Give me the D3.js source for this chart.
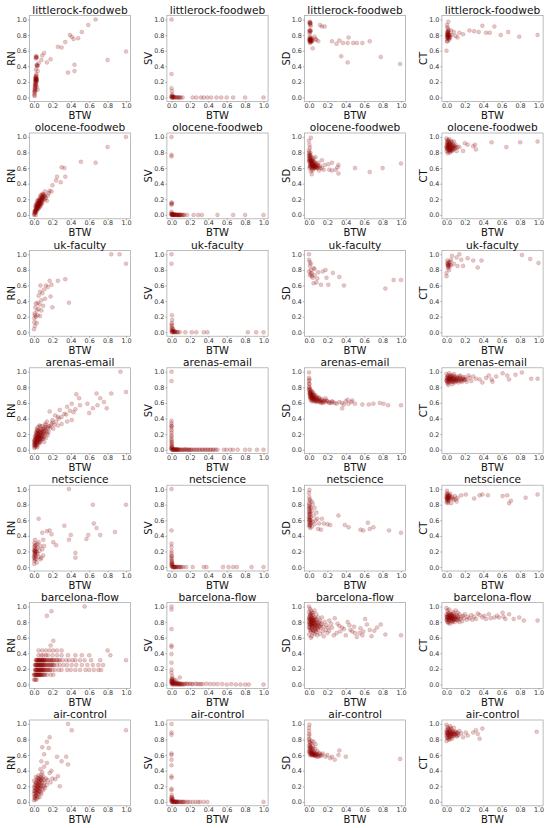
<!DOCTYPE html>
<html>
<head>
<meta charset="utf-8">
<script src="https://cdn.jsdelivr.net/npm/d3@7"></script>
<style>
  body { margin: 0; background: #fff; }
  text { font-family: "DejaVu Sans", sans-serif; }
</style>
</head>
<body>
<div id="chart"></div>
<script>
const datasets = ["littlerock-foodweb", "olocene-foodweb", "uk-faculty", "arenas-email", "netscience", "barcelona-flow", "air-control"];
const metrics = ["RN", "SV", "SD", "CT"];
const tickValues = [0, 0.2, 0.4, 0.6, 0.8, 1.0];

// littlerock-foodweb
const lrRN = [[0.67,1.0],[0.59,0.93],[0.52,0.84],[0.39,0.8],[0.41,0.78],[0.43,0.75],[0.48,0.76],[0.34,0.71],[0.26,0.65],[0.3,0.64],[1.0,0.59],[0.8,0.48],[0.44,0.42],[0.44,0.34],[0.37,0.32],[0.18,0.49],[0.14,0.45],[0.11,0.57],[0.09,0.54],[0.08,0.48],[0.05,0.44],[0.04,0.41],[0.04,0.34],[0.03,0.52],[0.02,0.53],[0.025,0.51],[0.03,0.42],[0.035,0.4],[0.02,0.36],[0.025,0.3],[0.02,0.27],[0.03,0.25],[0.02,0.24],[0.015,0.23],[0.025,0.22],[0.02,0.21],[0.01,0.2],[0.03,0.2],[0.015,0.18],[0.01,0.16],[0.02,0.15],[0.01,0.13],[0.007,0.11],[0.015,0.1],[0.005,0.08],[0.01,0.07],[0.005,0.05],[0.003,0.03],[0.008,0.02],[0.04,0.1],[0.03,0.14],[0.02,0.25],[0.025,0.23]];
const lrRNCore = [[0.02,0.22],[0.02,0.23],[0.025,0.24],[0.015,0.26],[0.02,0.19],[0.025,0.52],[0.02,0.5],[0.03,0.41],[0.01,0.15],[0.015,0.12],[0.01,0.09],[0.02,0.17],[0.025,0.28],[0.03,0.22]];
const lrSV = [[0,1.0],[0,0.3],[0,0.12],[0.005,0.08],[0.008,0.04],[0,0.02],[0.005,0.01],[0.01,0],[0.015,0.005],[0.02,0],[0.025,0.01],[0.03,0],[0.04,0],[0.05,0.005],[0.06,0],[0.07,0],[0.08,0],[0.09,0],[0.1,0],[0.12,0],[0.23,0],[0.27,0],[0.32,0],[0.35,0],[0.39,0],[0.43,0],[0.49,0],[0.54,0],[0.6,0],[0.67,0],[0.8,0],[1.0,0],[0,0],[0.003,0.005],[0.01,0.02]];
const lrSD = [[0.01,0.97],[0.015,0.95],[0.01,0.93],[0.02,0.92],[0.005,0.96],[0.01,0.85],[0.015,0.84],[0.005,0.82],[0.02,0.86],[0.01,0.78],[0.005,0.76],[0.015,0.75],[0.01,0.74],[0.02,0.73],[0.005,0.72],[0.015,0.71],[0.025,0.74],[0.02,0.76],[0.03,0.72],[0.01,0.7],[0.03,0.76],[0.04,0.73],[0.04,0.63],[0.07,0.75],[0.1,0.72],[0.12,0.93],[0.14,0.91],[0.17,0.91],[0.25,0.72],[0.3,0.69],[0.33,0.73],[0.37,0.7],[0.43,0.77],[0.42,0.7],[0.48,0.7],[0.52,0.7],[0.58,0.7],[0.66,0.72],[0.35,0.53],[0.42,0.45],[0.78,0.52],[0.99,0.43],[0.06,0.78],[0.08,0.74]];
const lrSDCore = [[0.005,0.74],[0.01,0.73],[0.015,0.73],[0.02,0.74],[0.01,0.75],[0.005,0.86],[0.01,0.86],[0.015,0.96],[0.01,0.95],[0.02,0.71],[0.025,0.72]];
const lrCT = [[0.02,0.97],[0.01,0.9],[0.01,0.83],[0.02,0.77],[0.03,0.74],[0.04,0.8],[0.0,0.6],[0.005,0.72],[0.01,0.75],[0.015,0.78],[0.005,0.8],[0.02,0.82],[0.01,0.85],[0.025,0.86],[0.015,0.88],[0.02,0.84],[0.03,0.79],[0.01,0.81],[0.02,0.79],[0.03,0.76],[0.005,0.93],[0.04,0.77],[0.1,0.79],[0.12,0.77],[0.18,0.81],[0.25,0.86],[0.3,0.85],[0.35,0.84],[0.39,0.92],[0.43,0.83],[0.47,0.83],[0.52,0.91],[0.59,0.8],[0.67,0.84],[0.79,0.78],[0.99,0.8],[0.08,0.84],[0.14,0.83],[0.06,0.8],[0.05,0.86]];
const lrCTCore = [[0.01,0.8],[0.015,0.82],[0.02,0.8],[0.01,0.78],[0.02,0.76],[0.015,0.84],[0.005,0.77],[0.025,0.8],[0.01,0.72]];

// olocene-foodweb
const olRN = [[1.0,1.0],[0.8,0.87],[0.67,0.67],[0.51,0.68],[0.34,0.49],[0.33,0.6],[0.3,0.61],[0.25,0.49],[0.29,0.42],[0.24,0.44],[0.2,0.38],[0.17,0.31],[0.16,0.28],[0.12,0.3],[0.09,0.27],[0.08,0.25],[0.19,0.3],[0.1,0.21],[0.14,0.18],[0.065,0.22],[0.05,0.17],[0.035,0.13],[0.02,0.09],[0.01,0.04],[0.005,0.01],[0.07,0.25],[0.09,0.22],[0.1,0.26],[0.085,0.19],[0.06,0.2],[0.075,0.16],[0.055,0.14],[0.045,0.19],[0.04,0.11],[0.06,0.12],[0.03,0.15],[0.03,0.1],[0.025,0.07],[0.04,0.08],[0.015,0.06],[0.02,0.03],[0.01,0.02],[0.005,0.05],[0.05,0.1],[0.07,0.13],[0.08,0.17],[0.11,0.24],[0.13,0.22],[0.15,0.25],[0.03,0.05],[0.015,0.11],[0.02,0.13],[0.045,0.15],[0.06,0.17],[0.035,0.18],[0.09,0.15],[0.12,0.2],[0.0,0.0],[0.02,0.0]];
const olRNCore = [[0.02,0.05],[0.03,0.07],[0.03,0.09],[0.04,0.1],[0.04,0.13],[0.05,0.12],[0.05,0.15],[0.06,0.14],[0.06,0.16],[0.07,0.15],[0.07,0.18],[0.08,0.2],[0.08,0.14],[0.09,0.18],[0.09,0.21],[0.1,0.23],[0.02,0.07],[0.03,0.12],[0.04,0.15],[0.05,0.08],[0.06,0.1],[0.07,0.11],[0.01,0.03],[0.015,0.04],[0.025,0.1],[0.035,0.08],[0.045,0.12],[0.055,0.18],[0.065,0.19],[0.075,0.21],[0.085,0.23],[0.095,0.25],[0.11,0.26],[0.12,0.24],[0.1,0.19]];
const olSV = [[0,1.0],[0,0.77],[0,0.75],[0,0.16],[0,0.13],[0,0.04],[0,0.01],[0.005,0],[0.01,0.005],[0.015,0],[0.02,0],[0.03,0.005],[0.04,0],[0.05,0],[0.06,0],[0.07,0],[0.08,0],[0.09,0],[0.1,0],[0.12,0],[0.14,0],[0.17,0],[0.24,0],[0.29,0],[0.33,0],[0.5,0],[0.67,0],[0.8,0],[1.0,0],[0,0],[0.005,0.01],[0.025,0.01],[0.035,0]];
const olSVCore = [[0.005,0.005],[0.015,0.005],[0.025,0],[0.045,0.005],[0.055,0],[0.065,0],[0.075,0],[0.085,0],[0.095,0],[0.11,0],[0.13,0],[0,0.02],[0,0.14],[0.005,0.15]];
const olSD = [[0.02,0.99],[0.0,0.95],[0.005,0.9],[0.01,0.86],[0.0,0.83],[0.015,0.8],[0.005,0.78],[0.02,0.76],[0.01,0.74],[0.03,0.73],[0.0,0.72],[0.02,0.7],[0.04,0.7],[0.01,0.68],[0.03,0.67],[0.05,0.66],[0.015,0.65],[0.04,0.64],[0.06,0.63],[0.025,0.62],[0.07,0.62],[0.05,0.6],[0.08,0.6],[0.03,0.59],[0.1,0.61],[0.09,0.64],[0.06,0.68],[0.08,0.66],[0.12,0.63],[0.005,0.6],[0.02,0.56],[0.04,0.57],[0.07,0.74],[0.14,0.7],[0.17,0.64],[0.21,0.65],[0.25,0.67],[0.29,0.58],[0.31,0.61],[0.32,0.64],[0.32,0.53],[0.5,0.6],[0.66,0.55],[0.8,0.6],[1.0,0.66],[0.11,0.57],[0.16,0.58],[0.22,0.58],[0.25,0.57],[0.03,0.52],[0.01,0.77],[0.0,0.69],[0.015,0.62],[0.05,0.73],[0.1,0.67]];
const olSDCore = [[0.0,0.8],[0.005,0.75],[0.01,0.72],[0.015,0.7],[0.02,0.68],[0.025,0.66],[0.03,0.65],[0.035,0.64],[0.04,0.62],[0.045,0.63],[0.05,0.64],[0.055,0.62],[0.06,0.61],[0.065,0.6],[0.07,0.64],[0.075,0.61],[0.08,0.62],[0.005,0.7],[0.01,0.66],[0.015,0.74],[0.02,0.64],[0.025,0.7],[0.03,0.61],[0.035,0.68],[0.04,0.66],[0.045,0.6],[0.05,0.68],[0.06,0.66],[0.0,0.76],[0.01,0.62],[0.09,0.6],[0.1,0.63],[0.12,0.6],[0.14,0.6],[0.03,0.7]];
const olCT = [[0.0,0.98],[0.01,0.96],[0.02,0.95],[0.005,0.93],[0.03,0.92],[0.015,0.9],[0.04,0.91],[0.0,0.88],[0.02,0.87],[0.05,0.89],[0.01,0.85],[0.03,0.84],[0.06,0.86],[0.0,0.82],[0.02,0.81],[0.04,0.8],[0.07,0.83],[0.08,0.88],[0.09,0.85],[0.1,0.9],[0.11,0.82],[0.12,0.87],[0.06,0.93],[0.015,0.79],[0.035,0.86],[0.05,0.83],[0.14,0.87],[0.18,0.82],[0.23,0.9],[0.29,0.88],[0.31,0.9],[0.32,0.84],[0.49,0.93],[0.65,0.87],[0.8,0.93],[0.99,0.94],[0.2,0.92],[0.08,0.94],[0.03,0.97]];
const olCTCore = [[0.005,0.9],[0.01,0.88],[0.015,0.86],[0.02,0.9],[0.025,0.85],[0.03,0.88],[0.035,0.9],[0.04,0.86],[0.045,0.84],[0.05,0.87],[0.055,0.9],[0.06,0.84],[0.065,0.88],[0.07,0.86],[0.075,0.9],[0.08,0.85],[0.09,0.88],[0.1,0.86],[0.005,0.85],[0.01,0.92],[0.02,0.83],[0.03,0.93],[0.04,0.82],[0.05,0.95],[0.06,0.82],[0.0,0.86],[0.015,0.94],[0.025,0.89],[0.035,0.83],[0.045,0.92]];

// uk-faculty
const ukRN = [[0.84,1.0],[0.93,1.0],[1.0,0.88],[0.34,0.68],[0.26,0.66],[0.17,0.66],[0.19,0.61],[0.15,0.58],[0.18,0.46],[0.38,0.38],[0.2,0.32],[0.07,0.6],[0.065,0.52],[0.05,0.47],[0.08,0.41],[0.06,0.36],[0.02,0.37],[0.015,0.32],[0.007,0.24],[0.04,0.22],[0.065,0.21],[0.004,0.18],[0.004,0.13],[0.01,0.08],[0.03,0.12],[0.0,0.04],[0.08,0.28],[0.1,0.34],[0.12,0.43],[0.09,0.5],[0.02,0.2],[0.03,0.28],[0.01,0.22],[0.05,0.3],[0.04,0.38],[0.11,0.55],[0.13,0.6]];
const ukSV = [[0,1.0],[0,0.88],[0.005,0.22],[0.008,0.16],[0.005,0.12],[0.005,0.08],[0.01,0.05],[0.0,0.03],[0.01,0.02],[0.02,0.01],[0.03,0.0],[0.04,0.01],[0.05,0.0],[0.06,0.0],[0.07,0.005],[0.09,0.0],[0.015,0.0],[0.005,0.0],[0.15,0.0],[0.22,0.0],[0.27,0.0],[0.35,0.0],[0.39,0.0],[0.83,0.0],[0.92,0.0],[1.0,0.0],[0.02,0.04],[0.0,0.06],[0.005,0.01],[0.015,0.02],[0.025,0.01],[0.035,0.005],[0,0.1]];
const ukSD = [[0.0,1.0],[0.0,0.93],[0.01,0.9],[0.01,0.85],[0.02,0.8],[0.03,0.76],[0.01,0.73],[0.04,0.7],[0.05,0.82],[0.06,0.73],[0.06,0.81],[0.09,0.69],[0.05,0.63],[0.08,0.64],[0.13,0.61],[0.1,0.77],[0.15,0.78],[0.18,0.8],[0.19,0.7],[0.21,0.61],[0.26,0.76],[0.33,0.71],[0.38,0.6],[0.83,0.56],[0.92,0.67],[1.0,0.67],[0.02,0.88],[0.0,0.78],[0.03,0.72],[0.02,0.75]];
const ukCT = [[0.01,0.92],[0.02,0.89],[0.03,0.87],[0.035,0.85],[0.015,0.82],[0.0,0.76],[0.0,0.72],[0.05,0.93],[0.08,0.88],[0.11,0.96],[0.14,1.0],[0.12,0.85],[0.18,0.85],[0.23,0.95],[0.29,0.92],[0.34,0.83],[0.38,0.92],[0.82,0.99],[0.91,0.94],[1.0,0.89],[0.16,0.93],[0.06,0.98],[0.02,0.84],[0.04,0.9],[0.01,0.87],[0.03,0.8],[0.05,0.86],[0.01,0.89],[0.02,0.86],[0.03,0.9],[0.015,0.85]];

// arenas-email
const aeRN = [[0.94,1.0],[1.0,0.74],[0.84,0.72],[0.76,0.61],[0.68,0.72],[0.72,0.66],[0.79,0.53],[0.69,0.57],[0.64,0.53],[0.6,0.47],[0.58,0.59],[0.49,0.66],[0.46,0.71],[0.5,0.57],[0.41,0.59],[0.43,0.48],[0.36,0.55],[0.33,0.46],[0.28,0.51],[0.26,0.42],[0.23,0.44],[0.2,0.38],[0.17,0.49],[0.14,0.36],[0.12,0.29],[0.08,0.25],[0.1,0.23],[0.065,0.18],[0.05,0.14],[0.03,0.1],[0.01,0.06],[0.005,0.02],[0.16,0.23],[0.21,0.27],[0.26,0.31],[0.3,0.33],[0.36,0.36],[0.41,0.38],[0.03,0.2],[0.04,0.25],[0.06,0.31],[0.02,0.15],[0.015,0.1],[0.04,0.12],[0.06,0.1],[0.08,0.15],[0.1,0.18],[0.12,0.2],[0.02,0.04],[0.04,0.06],[0.06,0.08],[0.08,0.12],[0.1,0.14],[0.14,0.24],[0.18,0.28],[0.22,0.32],[0.11,0.27],[0.09,0.3],[0.07,0.22],[0.05,0.18],[0.03,0.15],[0.015,0.12],[0.01,0.17],[0.02,0.22],[0.03,0.27],[0.05,0.22],[0.07,0.17],[0.09,0.2],[0.13,0.32],[0.16,0.3],[0.19,0.33],[0.24,0.36],[0.27,0.4],[0.3,0.42],[0.35,0.45],[0.39,0.5],[0.45,0.52],[0.005,0.08],[0.0,0.12],[0.025,0.08],[0.045,0.16],[0.065,0.13],[0.035,0.03],[0.11,0.1],[0.15,0.19],[0.13,0.15]];
const aeRNCore = [[0.005,0.04],[0.01,0.08],[0.01,0.12],[0.015,0.05],[0.02,0.09],[0.02,0.13],[0.02,0.18],[0.025,0.06],[0.03,0.11],[0.03,0.16],[0.03,0.22],[0.035,0.08],[0.04,0.13],[0.04,0.18],[0.04,0.21],[0.045,0.1],[0.05,0.16],[0.05,0.2],[0.05,0.24],[0.055,0.12],[0.06,0.15],[0.06,0.19],[0.06,0.24],[0.065,0.1],[0.07,0.14],[0.07,0.2],[0.075,0.26],[0.08,0.18],[0.08,0.22],[0.085,0.14],[0.09,0.24],[0.09,0.17],[0.1,0.21],[0.1,0.27],[0.11,0.22],[0.11,0.16],[0.12,0.25],[0.13,0.27],[0.14,0.21],[0.15,0.28],[0.0,0.06],[0.005,0.1],[0.015,0.15],[0.025,0.19],[0.035,0.25],[0.045,0.29],[0.07,0.3],[0.12,0.33],[0.17,0.3],[0.2,0.35]];
const aeSV = [[0,1.0],[0,0.88],[0,0.37],[0,0.34],[0,0.31],[0,0.28],[0,0.22],[0,0.17],[0,0.12],[0.005,0.09],[0.005,0.05],[0.01,0.03],[0,0.01],[0.01,0],[0.02,0.005],[0.03,0],[0.04,0],[0.05,0.005],[0.06,0],[0.08,0],[0.1,0],[0.12,0],[0.14,0],[0.16,0],[0.18,0],[0.2,0],[0.22,0],[0.25,0],[0.28,0],[0.31,0],[0.34,0],[0.37,0],[0.4,0],[0.43,0],[0.46,0],[0.5,0],[0.57,0],[0.6,0],[0.64,0],[0.67,0],[0.72,0],[0.8,0],[0.85,0],[0.93,0],[1.0,0],[0.07,0.005],[0.15,0.005],[0.002,0.02]];
const aeSVCore = [[0.005,0],[0.015,0],[0.025,0],[0.035,0.005],[0.045,0],[0.055,0],[0.065,0],[0.075,0],[0.09,0],[0.11,0],[0.13,0],[0.17,0],[0.19,0],[0.21,0],[0.24,0],[0.27,0],[0.3,0],[0.33,0],[0.36,0],[0.39,0],[0.42,0],[0.45,0],[0.48,0],[0,0.02],[0,0.04],[0,0.07],[0,0.1],[0,0.14],[0,0.19],[0,0.25],[0,0.3]];
const aeSD = [[0,0.99],[0,0.92],[0.005,0.84],[0.01,0.78],[0.015,0.74],[0.02,0.7],[0.03,0.66],[0.0,0.88],[0.005,0.8],[0.01,0.72],[0.02,0.76],[0.03,0.7],[0.04,0.68],[0.05,0.72],[0.06,0.65],[0.07,0.68],[0.08,0.63],[0.09,0.66],[0.1,0.64],[0.11,0.67],[0.12,0.62],[0.14,0.65],[0.15,0.61],[0.17,0.63],[0.2,0.62],[0.22,0.6],[0.25,0.62],[0.28,0.6],[0.3,0.59],[0.33,0.61],[0.36,0.6],[0.38,0.58],[0.4,0.62],[0.43,0.59],[0.46,0.61],[0.5,0.59],[0.58,0.58],[0.65,0.58],[0.7,0.59],[0.77,0.6],[0.81,0.59],[0.86,0.57],[1.0,0.57],[0.36,0.53],[0.47,0.63],[0.42,0.64],[0.04,0.74],[0.06,0.7],[0.08,0.69],[0.02,0.64],[0.05,0.62],[0.13,0.6],[0.18,0.66],[0.01,0.68],[0.03,0.62]];
const aeSDCore = [[0.0,0.8],[0.005,0.76],[0.005,0.72],[0.01,0.74],[0.01,0.69],[0.015,0.71],[0.02,0.72],[0.02,0.67],[0.025,0.69],[0.03,0.72],[0.03,0.64],[0.035,0.67],[0.04,0.7],[0.04,0.65],[0.045,0.66],[0.05,0.68],[0.05,0.64],[0.06,0.67],[0.06,0.63],[0.07,0.65],[0.07,0.62],[0.08,0.66],[0.08,0.61],[0.09,0.63],[0.1,0.62],[0.1,0.66],[0.11,0.61],[0.12,0.64],[0.13,0.62],[0.14,0.63],[0.15,0.6],[0.16,0.62],[0.18,0.61],[0.19,0.63],[0.22,0.61],[0.24,0.6],[0.26,0.61],[0.0,0.85],[0.005,0.9],[0.0,0.77],[0.015,0.66],[0.025,0.75],[0.05,0.7],[0.03,0.68]];
const aeCT = [[0.0,0.97],[0.02,0.95],[0.04,0.93],[0.06,0.91],[0.08,0.9],[0.1,0.92],[0.12,0.89],[0.14,0.91],[0.16,0.88],[0.18,0.93],[0.2,0.9],[0.22,0.87],[0.25,0.92],[0.0,0.88],[0.01,0.85],[0.03,0.9],[0.05,0.87],[0.07,0.95],[0.09,0.86],[0.11,0.94],[0.13,0.86],[0.15,0.95],[0.17,0.9],[0.01,0.92],[0.03,0.98],[0.05,0.93],[0.02,0.83],[0.06,0.84],[0.1,0.88],[0.27,0.88],[0.29,0.94],[0.36,0.9],[0.43,0.92],[0.49,0.9],[0.54,0.94],[0.61,0.98],[0.66,0.95],[0.68,0.9],[0.75,0.96],[0.82,0.99],[0.92,0.91],[0.99,0.91],[0.5,0.87],[0.39,0.86],[0.32,0.91],[0.46,0.95],[0.24,0.95],[0.08,0.97]];
const aeCTCore = [[0.0,0.92],[0.01,0.9],[0.01,0.94],[0.02,0.89],[0.02,0.92],[0.03,0.87],[0.03,0.93],[0.04,0.9],[0.04,0.88],[0.05,0.91],[0.05,0.95],[0.06,0.88],[0.06,0.93],[0.07,0.9],[0.07,0.87],[0.08,0.92],[0.09,0.89],[0.09,0.94],[0.1,0.9],[0.11,0.88],[0.12,0.92],[0.13,0.9],[0.14,0.88],[0.15,0.92],[0.16,0.9],[0.17,0.87],[0.18,0.91],[0.19,0.89],[0.2,0.93],[0.21,0.9],[0.0,0.89],[0.02,0.86],[0.04,0.95],[0.08,0.87],[0.11,0.91],[0.14,0.94],[0.01,0.87],[0.03,0.91],[0.05,0.89],[0.07,0.92]];

// netscience
const nsRN = [[0.38,1.0],[0.64,0.8],[1.0,0.8],[0.05,0.62],[0.65,0.56],[0.68,0.5],[0.33,0.53],[0.17,0.47],[0.14,0.46],[0.19,0.42],[0.09,0.44],[0.88,0.45],[0.72,0.41],[0.59,0.41],[0.4,0.41],[0.38,0.35],[0.57,0.36],[0.45,0.18],[0.45,0.12],[0.21,0.32],[0.24,0.28],[0.1,0.35],[0.11,0.27],[0.09,0.23],[0.08,0.12],[0.05,0.32],[0.005,0.31],[0.005,0.26],[0.01,0.21],[0.01,0.16],[0.005,0.12],[0.003,0.08],[0.003,0.04],[0.03,0.19],[0.04,0.25],[0.05,0.13],[0.06,0.21],[0.07,0.27],[0.02,0.14],[0.02,0.1],[0.03,0.06],[0.01,0.35],[0.02,0.28],[0.04,0.17],[0.015,0.2],[0.025,0.23],[0.035,0.3],[0.005,0.18],[0.0,0.22],[0.1,0.15],[0.07,0.1],[0.005,0.2],[0.01,0.24],[0.005,0.15],[0.01,0.1],[0.015,0.17],[0.02,0.2],[0.01,0.28],[0.0,0.13]];
const nsSV = [[0,1.0],[0,0.47],[0,0.3],[0,0.26],[0,0.21],[0,0.18],[0.002,0.14],[0.002,0.1],[0.005,0.07],[0.01,0.04],[0,0.02],[0.005,0.01],[0.01,0],[0.02,0.005],[0.03,0],[0.04,0],[0.05,0],[0.06,0.005],[0.08,0],[0.1,0],[0.13,0],[0.16,0],[0.23,0],[0.35,0],[0.38,0],[0.56,0],[0.62,0],[0.67,0],[0.71,0],[0.87,0],[1.0,0],[0.0,0.05],[0.005,0.03],[0,0.08],[0,0.12],[0,0.15],[0.005,0.05],[0.015,0],[0.025,0],[0.035,0],[0.045,0],[0.07,0],[0.09,0],[0.11,0]];
const nsSD = [[0.005,0.99],[0.003,0.9],[0.003,0.82],[0.005,0.74],[0.005,0.66],[0.01,0.6],[0.01,0.54],[0.015,0.5],[0.03,0.84],[0.04,0.81],[0.06,0.76],[0.08,0.7],[0.05,0.66],[0.09,0.62],[0.11,0.56],[0.1,0.49],[0.14,0.62],[0.16,0.56],[0.2,0.55],[0.23,0.54],[0.32,0.66],[0.39,0.54],[0.43,0.51],[0.56,0.48],[0.59,0.47],[0.64,0.57],[0.66,0.49],[0.7,0.51],[0.87,0.47],[1.0,0.44],[0.13,0.48],[0.07,0.6],[0.0,0.95],[0.01,0.87],[0.0,0.78],[0.015,0.7],[0.0,0.62],[0.02,0.57],[0.005,0.52],[0.02,0.64],[0.01,0.68],[0.03,0.72],[0.02,0.76],[0.04,0.58],[0.03,0.52],[0.06,0.55]];
const nsSDCore = [[0.0,0.58],[0.005,0.6],[0.0,0.64],[0.005,0.68],[0.0,0.7],[0.005,0.72],[0.0,0.75],[0.005,0.8],[0.01,0.63],[0.01,0.57],[0.015,0.55],[0.0,0.54],[0.01,0.77],[0.005,0.85],[0.02,0.6]];
const nsCT = [[0.005,0.98],[0.01,0.95],[0.0,0.93],[0.02,0.92],[0.01,0.9],[0.03,0.89],[0.0,0.88],[0.02,0.87],[0.04,0.91],[0.01,0.85],[0.03,0.86],[0.0,0.83],[0.02,0.84],[0.05,0.88],[0.015,0.82],[0.04,0.94],[0.06,0.9],[0.09,0.91],[0.12,0.89],[0.16,0.92],[0.21,0.93],[0.3,0.88],[0.36,0.92],[0.39,0.93],[0.45,0.92],[0.61,0.91],[0.66,0.92],[0.7,0.85],[0.68,0.82],[0.86,0.89],[0.99,0.93],[0.07,0.88],[0.11,0.84],[0.05,0.82],[0.08,0.86],[0.1,0.87],[0.005,0.9],[0.01,0.88],[0.015,0.91],[0.02,0.89],[0.005,0.86],[0.01,0.93],[0.015,0.87],[0.0,0.9],[0.025,0.9],[0.03,0.92]];

// barcelona-flow (RN takes discrete levels)
const bfRNLevels = [0.0625, 0.125, 0.1875, 0.25, 0.3125, 0.375, 0.4375];
const bfRNLevelX = [
  [0.0,0.01,0.02,0.03],
  [0.0,0.01,0.02,0.03,0.04,0.05,0.06,0.07,0.08,0.1,0.12,0.14,0.18,0.21,0.005,0.015,0.025,0.035,0.045,0.055,0.065,0.075,0.09,0.11],
  [0.01,0.02,0.03,0.04,0.05,0.06,0.07,0.08,0.09,0.1,0.12,0.14,0.16,0.18,0.2,0.23,0.27,0.3,0.36,0.4,0.45,0.5,0.56,0.6,0.65,0.7,0.73,0.015,0.025,0.035,0.045,0.055,0.065,0.075,0.085,0.095,0.105,0.115,0.13,0.15,0.17],
  [0.01,0.02,0.03,0.04,0.05,0.06,0.07,0.08,0.09,0.1,0.12,0.14,0.16,0.18,0.2,0.22,0.25,0.28,0.32,0.36,0.41,0.46,0.52,0.58,0.64,0.7,0.75,0.015,0.025,0.035,0.045,0.055,0.065,0.075,0.085,0.095,0.105,0.115,0.13,0.15,0.17,0.19,0.21],
  [0.02,0.03,0.04,0.05,0.06,0.07,0.08,0.09,0.1,0.11,0.12,0.14,0.16,0.18,0.2,0.22,0.25,0.28,0.31,0.35,0.38,0.42,0.45,0.5,0.55,0.62,0.72,1.0,0.025,0.035,0.045,0.055,0.065,0.075,0.085,0.095,0.105,0.115,0.13,0.15,0.17,0.19,0.21,0.24,0.27],
  [0.05,0.08,0.1,0.13,0.15,0.2,0.25,0.3,0.37,0.45,0.52,0.6,0.83],
  [0.05,0.09,0.13,0.17,0.21,0.25,0.3,0.8]
];
const bfRNOther = [[0.55,1.0],[0.19,0.94],[0.14,0.88],[0.21,0.56],[0.18,0.5]];
const bfSV = [[0,1.0],[0,0.96],[0,0.71],[0,0.5],[0,0.48],[0,0.39],[0,0.28],[0,0.19],[0,0.15],[0.005,0.11],[0.01,0.08],[0.03,0.06],[0.05,0.05],[0.09,0.09],[0.01,0.05],[0.02,0.04],[0.0,0.03],[0.04,0.03],[0.06,0.02],[0.08,0.02],[0.1,0.01],[0.12,0.01],[0.15,0.01],[0.18,0.005],[0.2,0.01],[0.23,0.005],[0.26,0.01],[0.3,0.005],[0.34,0.005],[0.38,0.01],[0.42,0.005],[0.46,0.005],[0.5,0.005],[0.55,0.005],[0.6,0.0],[0.65,0.005],[0.7,0.0],[0.75,0.0],[0.8,0.0],[0.84,0.0],[1.0,0.0],[0.01,0.0],[0.02,0.01],[0.03,0.0],[0.05,0.0],[0.07,0.0],[0.09,0.0],[0.11,0.0],[0.13,0.0],[0.0,0.01],[0.0,0.07],[0.01,0.02]];
const bfSVCore = [[0.005,0.02],[0.015,0.01],[0.025,0.02],[0.035,0.01],[0.045,0.015],[0.055,0.01],[0.065,0.01],[0.075,0.005],[0.085,0.01],[0.1,0.005],[0.14,0.005],[0.17,0.01],[0.22,0.005],[0.28,0.005],[0.32,0.005],[0,0.04],[0,0.05],[0.005,0.06],[0.01,0.03]];
const bfSD = [[0.0,1.0],[0.01,0.97],[0.02,0.95],[0.0,0.93],[0.03,0.92],[0.01,0.9],[0.04,0.89],[0.02,0.88],[0.0,0.86],[0.05,0.86],[0.03,0.85],[0.01,0.84],[0.06,0.83],[0.02,0.82],[0.04,0.81],[0.0,0.8],[0.07,0.8],[0.03,0.79],[0.05,0.78],[0.01,0.77],[0.08,0.77],[0.02,0.76],[0.06,0.75],[0.04,0.74],[0.0,0.73],[0.09,0.74],[0.03,0.72],[0.07,0.71],[0.01,0.7],[0.05,0.69],[0.02,0.68],[0.1,0.7],[0.04,0.66],[0.0,0.64],[0.06,0.65],[0.03,0.62],[0.08,0.67],[0.1,0.79],[0.12,0.82],[0.11,0.75],[0.13,0.72],[0.14,0.78],[0.15,0.68],[0.12,0.65],[0.16,0.74],[0.17,0.8],[0.18,0.7],[0.19,0.76],[0.2,0.66],[0.21,0.73],[0.14,0.86],[0.08,0.9],[0.1,0.86],[0.06,0.95],[0.02,0.6],[0.09,0.63],[0.16,0.62],[1.0,0.63],[0.83,0.64],[0.78,0.77],[0.74,0.73],[0.71,0.69],[0.68,0.62],[0.63,0.77],[0.59,0.68],[0.61,0.84],[0.56,0.72],[0.5,0.66],[0.49,0.74],[0.45,0.7],[0.42,0.8],[0.4,0.63],[0.36,0.73],[0.34,0.68],[0.31,0.78],[0.27,0.63],[0.25,0.73],[0.22,0.82],[0.22,0.69],[0.28,0.85],[0.33,0.75],[0.38,0.71],[0.44,0.76],[0.52,0.61],[0.55,0.66],[0.66,0.7],[0.3,0.66],[0.24,0.78],[0.47,0.68],[0.58,0.63]];
const bfSDCore = [[0.005,0.85],[0.01,0.8],[0.015,0.83],[0.02,0.78],[0.025,0.81],[0.03,0.76],[0.035,0.82],[0.04,0.79],[0.045,0.84],[0.05,0.75],[0.055,0.8],[0.06,0.78],[0.065,0.72],[0.07,0.76],[0.075,0.82],[0.08,0.74],[0.085,0.79],[0.09,0.71],[0.1,0.76],[0.11,0.8],[0.005,0.74],[0.01,0.88],[0.015,0.72],[0.02,0.9],[0.025,0.7],[0.03,0.86],[0.035,0.75],[0.04,0.92],[0.045,0.7],[0.05,0.82],[0.06,0.86],[0.07,0.69],[0.08,0.84],[0.12,0.74],[0.13,0.77],[0.0,0.78],[0.0,0.83],[0.015,0.77],[0.025,0.84],[0.035,0.78]];
const bfCT = [[0.0,0.98],[0.01,0.95],[0.02,0.92],[0.0,0.9],[0.03,0.89],[0.01,0.87],[0.04,0.86],[0.02,0.85],[0.0,0.83],[0.05,0.84],[0.03,0.82],[0.01,0.8],[0.06,0.81],[0.02,0.79],[0.04,0.78],[0.07,0.86],[0.08,0.83],[0.05,0.9],[0.06,0.88],[0.09,0.87],[0.1,0.84],[0.08,0.91],[0.11,0.89],[0.12,0.82],[0.13,0.86],[0.14,0.9],[0.15,0.84],[0.16,0.87],[0.17,0.81],[0.18,0.88],[0.19,0.85],[0.2,0.9],[0.22,0.83],[0.23,0.87],[0.25,0.85],[0.27,0.89],[0.28,0.83],[0.3,0.87],[0.07,0.93],[0.1,0.95],[0.03,0.96],[0.12,0.92],[0.09,0.8],[0.14,0.8],[0.99,0.82],[0.84,0.82],[0.79,0.86],[0.73,0.84],[0.68,0.9],[0.64,0.84],[0.61,0.92],[0.55,0.88],[0.52,0.86],[0.46,0.9],[0.43,0.84],[0.39,0.86],[0.36,0.89],[0.32,0.84],[0.34,0.91],[0.41,0.88],[0.48,0.85],[0.57,0.86],[0.62,0.87]];
const bfCTCore = [[0.005,0.86],[0.01,0.84],[0.015,0.88],[0.02,0.86],[0.025,0.83],[0.03,0.87],[0.035,0.85],[0.04,0.89],[0.045,0.84],[0.05,0.86],[0.055,0.82],[0.06,0.85],[0.065,0.88],[0.07,0.84],[0.075,0.82],[0.08,0.86],[0.085,0.88],[0.09,0.84],[0.1,0.86],[0.11,0.83],[0.12,0.87],[0.13,0.84],[0.005,0.82],[0.015,0.9],[0.025,0.8],[0.035,0.91],[0.045,0.87],[0.055,0.9],[0.065,0.8],[0.0,0.87]];

// air-control
const acRN = [[0.37,1.0],[0.41,0.92],[1.0,0.92],[0.17,0.83],[0.14,0.77],[0.09,0.7],[0.16,0.69],[0.11,0.61],[0.25,0.58],[0.35,0.58],[0.3,0.52],[0.37,0.48],[0.26,0.33],[0.28,0.2],[0.23,0.29],[0.17,0.37],[0.14,0.5],[0.08,0.52],[0.0,0.02],[0.01,0.05],[0.02,0.08],[0.0,0.1],[0.03,0.12],[0.01,0.14],[0.04,0.15],[0.02,0.17],[0.05,0.18],[0.0,0.19],[0.03,0.2],[0.06,0.21],[0.01,0.22],[0.04,0.23],[0.07,0.24],[0.02,0.25],[0.05,0.26],[0.08,0.27],[0.03,0.28],[0.06,0.29],[0.09,0.3],[0.04,0.31],[0.07,0.32],[0.1,0.33],[0.05,0.34],[0.08,0.35],[0.06,0.06],[0.08,0.1],[0.1,0.15],[0.11,0.2],[0.12,0.25],[0.13,0.3],[0.09,0.38],[0.07,0.42],[0.11,0.45],[0.12,0.18],[0.14,0.22],[0.15,0.28],[0.02,0.32],[0.0,0.27],[0.04,0.06],[0.06,0.13],[0.19,0.4],[0.2,0.3],[0.18,0.25],[0.03,0.04]];
const acRNCore = [[0.01,0.08],[0.015,0.12],[0.02,0.15],[0.025,0.1],[0.03,0.16],[0.035,0.2],[0.04,0.12],[0.045,0.18],[0.05,0.22],[0.055,0.14],[0.06,0.25],[0.065,0.18],[0.07,0.28],[0.075,0.2],[0.08,0.22],[0.085,0.16],[0.09,0.25],[0.1,0.2],[0.005,0.06],[0.01,0.18],[0.02,0.22],[0.03,0.08],[0.04,0.27],[0.05,0.1],[0.06,0.17],[0.07,0.12],[0.08,0.3],[0.03,0.24],[0.05,0.3],[0.015,0.03],[0.0,0.14],[0.11,0.28]];
const acSV = [[0,1.0],[0,0.89],[0,0.86],[0,0.62],[0,0.6],[0,0.54],[0,0.47],[0,0.33],[0,0.31],[0,0.17],[0,0.15],[0.002,0.09],[0.005,0.06],[0.005,0.03],[0.0,0.01],[0.01,0.0],[0.02,0.01],[0.03,0.0],[0.04,0.005],[0.05,0.0],[0.06,0.0],[0.07,0.005],[0.08,0.0],[0.1,0.0],[0.12,0.0],[0.14,0.0],[0.16,0.0],[0.18,0.0],[0.2,0.0],[0.23,0.0],[0.26,0.0],[0.29,0.0],[0.31,0.0],[0.35,0.0],[0.39,0.0],[1.0,0.0],[0.01,0.02],[0.015,0.04],[0.005,0],[0.015,0],[0.025,0],[0.035,0],[0.045,0],[0.055,0],[0.065,0],[0.09,0],[0.11,0],[0.13,0],[0,0.02],[0,0.04],[0,0.06]];
const acSD = [[0.005,0.99],[0.0,0.91],[0.005,0.81],[0.01,0.73],[0.015,0.67],[0.03,0.63],[0.05,0.61],[0.0,0.95],[0.0,0.85],[0.005,0.77],[0.01,0.7],[0.02,0.75],[0.03,0.68],[0.04,0.72],[0.05,0.66],[0.06,0.63],[0.07,0.68],[0.08,0.62],[0.09,0.65],[0.1,0.6],[0.11,0.63],[0.12,0.61],[0.02,0.65],[0.04,0.6],[0.06,0.59],[0.08,0.58],[0.03,0.78],[0.02,0.62],[0.01,0.6],[0.0,0.65],[0.13,0.59],[0.18,0.58],[0.23,0.56],[0.28,0.54],[0.32,0.6],[0.33,0.66],[0.4,0.58],[0.99,0.55],[0.15,0.62],[0.2,0.6],[0.25,0.58],[0.07,0.74],[0.05,0.77]];
const acSDCore = [[0.005,0.68],[0.01,0.65],[0.015,0.62],[0.02,0.7],[0.025,0.64],[0.03,0.6],[0.035,0.66],[0.04,0.62],[0.045,0.64],[0.05,0.6],[0.055,0.62],[0.06,0.6],[0.065,0.61],[0.07,0.6],[0.08,0.6],[0.09,0.61],[0.1,0.58],[0.0,0.72],[0.005,0.63],[0.01,0.76],[0.015,0.7],[0.025,0.6],[0.035,0.61],[0.045,0.69],[0.0,0.8],[0.005,0.87],[0.11,0.59],[0.14,0.6]];
const acCT = [[0.0,0.99],[0.01,0.96],[0.02,0.94],[0.0,0.92],[0.03,0.91],[0.01,0.89],[0.04,0.88],[0.02,0.87],[0.0,0.85],[0.05,0.86],[0.03,0.84],[0.01,0.82],[0.06,0.9],[0.02,0.8],[0.04,0.83],[0.07,0.87],[0.08,0.85],[0.05,0.93],[0.09,0.9],[0.1,0.87],[0.11,0.84],[0.12,0.89],[0.13,0.86],[0.06,0.81],[0.0,0.78],[0.08,0.95],[0.04,0.97],[0.14,0.91],[0.21,0.89],[0.29,0.89],[0.32,0.92],[0.34,0.87],[0.39,0.94],[0.36,0.81],[0.98,0.9],[0.23,0.85],[0.18,0.83],[0.16,0.88]];
const acCTCore = [[0.005,0.9],[0.01,0.87],[0.015,0.85],[0.02,0.9],[0.025,0.88],[0.03,0.86],[0.035,0.92],[0.04,0.85],[0.045,0.9],[0.05,0.88],[0.055,0.84],[0.06,0.87],[0.065,0.91],[0.07,0.84],[0.075,0.89],[0.08,0.87],[0.09,0.86],[0.1,0.9],[0.005,0.83],[0.015,0.93],[0.025,0.82],[0.035,0.8],[0.045,0.95],[0.0,0.88],[0.11,0.88],[0.12,0.85]];

// barcelona RN points from its levels
const bfRN = bfRNOther.concat(...bfRNLevels.map((lv, i) => bfRNLevelX[i].map(x => [x, lv])));

const panels = [
  [lrRN.concat(lrRNCore), lrSV, lrSD.concat(lrSDCore), lrCT.concat(lrCTCore)],
  [olRN.concat(olRNCore), olSV.concat(olSVCore), olSD.concat(olSDCore), olCT.concat(olCTCore)],
  [ukRN, ukSV, ukSD, ukCT],
  [aeRN.concat(aeRNCore), aeSV.concat(aeSVCore), aeSD.concat(aeSDCore), aeCT.concat(aeCTCore)],
  [nsRN, nsSV, nsSD.concat(nsSDCore), nsCT],
  [bfRN, bfSV.concat(bfSVCore), bfSD.concat(bfSDCore), bfCT.concat(bfCTCore)],
  [acRN.concat(acRNCore), acSV, acSD.concat(acSDCore), acCT.concat(acCTCore)]
];

const width = 550, height = 828;
const unitW = 92, unitH = 78;        // pixels for a data span of 1.0
const colStep = 137.5, rowStep = 117.4;
const color = "#8b0000";

const svg = d3.select("#chart").append("svg")
    .attr("width", width)
    .attr("height", height);

datasets.forEach((name, r) => {
    metrics.forEach((m, c) => {
        const x0 = 34 + c * colStep;      // where BTW = 0 lands
        const y1 = 19.5 + r * rowStep;    // where value = 1 lands
        const y0 = y1 + unitH;

        const x = d3.scaleLinear().domain([-0.05, 1.05])
            .range([x0 - 0.05 * unitW, x0 + 1.05 * unitW]);
        const y = d3.scaleLinear().domain([-0.05, 1.05])
            .range([y0 + 0.05 * unitH, y1 - 0.05 * unitH]);

        const g = svg.append("g");
        const [left, right] = x.range();
        const [bottom, top] = y.range();

        g.append("g")
            .selectAll("circle")
            .data(panels[r][c])
            .enter()
            .append("circle")
            .attr("cx", d => x(d[0]))
            .attr("cy", d => y(d[1]))
            .attr("r", 2)
            .attr("fill", color)
            .attr("fill-opacity", 0.22)
            .attr("stroke", color)
            .attr("stroke-opacity", 0.26)
            .attr("stroke-width", 0.5);

        g.append("rect")
            .attr("x", left)
            .attr("y", top)
            .attr("width", right - left)
            .attr("height", bottom - top)
            .attr("fill", "none")
            .attr("stroke", "#a0a0a0")
            .attr("stroke-width", 0.7);

        const xAxis = g.append("g")
            .attr("transform", `translate(0,${bottom})`)
            .call(d3.axisBottom(x).tickValues(tickValues).tickFormat(d3.format(".1f")).tickSize(1.5).tickPadding(0.6));
        const yAxis = g.append("g")
            .attr("transform", `translate(${left},0)`)
            .call(d3.axisLeft(y).tickValues(tickValues).tickFormat(d3.format(".1f")).tickSize(1.5).tickPadding(1));

        [xAxis, yAxis].forEach(a => {
            a.select(".domain").remove();
            a.selectAll("line").attr("stroke", "#777").attr("stroke-width", 0.6);
            a.selectAll("text")
                .attr("fill", "#333")
                .style("font-size", "6.4px")
                .style("font-family", "DejaVu Sans, sans-serif");
        });

        g.append("text")
            .attr("x", (left + right) / 2)
            .attr("y", top - 1.8)
            .attr("text-anchor", "middle")
            .attr("fill", "#111")
            .style("font-size", "10.6px")
            .text(name);

        g.append("text")
            .attr("x", (left + right) / 2)
            .attr("y", y0 + 21.5)
            .attr("text-anchor", "middle")
            .attr("fill", "#111")
            .style("font-size", "10px")
            .text("BTW");

        g.append("text")
            .attr("transform", `translate(${x0 - 23},${(top + bottom) / 2}) rotate(-90)`)
            .attr("dy", "0.35em")
            .attr("text-anchor", "middle")
            .attr("fill", "#111")
            .style("font-size", "10px")
            .text(m);
    });
});
</script>
</body>
</html>
